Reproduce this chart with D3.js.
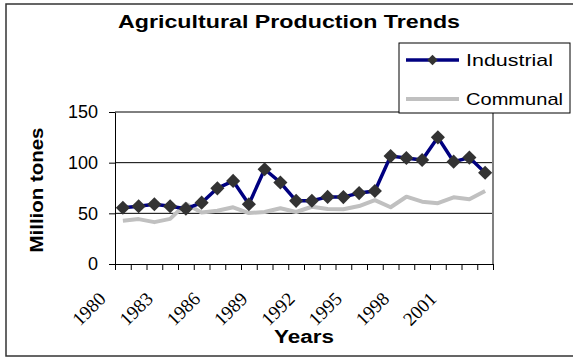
<!DOCTYPE html>
<html>
<head>
<meta charset="utf-8">
<script src="https://cdn.jsdelivr.net/npm/d3@7"></script>
<style>
  body { margin: 0; background: #fff; }
  svg { display: block; }
</style>
</head>
<body>
<div class="chart"></div>
<script>
// data
var years = d3.range(1980, 2004);
var industrial = [55.5, 57, 59, 57, 54.5, 60.5, 74.7, 82, 59, 93.5, 80.4, 62.3,
                  62.4, 66.2, 66, 70, 72, 106.5, 104.6, 102.6, 125, 101, 105, 90];
var communal = [42.7, 44.3, 41.3, 44.5, 59.5, 50.8, 52.5, 56, 50.3, 51.3, 55, 51.3,
                56.5, 54.3, 54, 57.2, 63, 56, 66.4, 61.5, 60, 65.8, 63.8, 72];
var yTicks = [0, 50, 100, 150];
var labelYears = [1980, 1983, 1986, 1989, 1992, 1995, 1998, 2001];

var svgWidth = 573, svgHeight = 358;
var plot = { left: 115, right: 493, top: 112, bottom: 264 };

var svg = d3.select(".chart").append("svg")
  .attr("width", svgWidth)
  .attr("height", svgHeight);

// outer chart border
svg.append("rect")
  .attr("x", 6).attr("y", 4)
  .attr("width", 590).attr("height", 352)
  .attr("fill", "none")
  .attr("stroke", "#333")
  .attr("stroke-width", 1.5);

// index scale: ticks on category boundaries, points in the middle
var xScale = d3.scaleLinear().domain([0, years.length]).range([plot.left, plot.right]);
var yScale = d3.scaleLinear().domain([0, 150]).range([plot.bottom, plot.top]);
var xPos = function(i) { return xScale(i + 0.5); };

// gridlines
svg.append("g").selectAll("line")
  .data(yTicks.slice(1))
  .enter().append("line")
  .attr("x1", plot.left).attr("x2", plot.right)
  .attr("y1", d => yScale(d)).attr("y2", d => yScale(d))
  .attr("stroke", "#000").attr("stroke-width", 1);

// plot area right border
svg.append("line")
  .attr("x1", plot.right).attr("x2", plot.right)
  .attr("y1", plot.top).attr("y2", plot.bottom)
  .attr("stroke", "#808080").attr("stroke-width", 2);

// x axis
var bottomAxis = d3.axisBottom(xScale)
  .tickValues(d3.range(0, years.length + 1))
  .tickSize(6)
  .tickSizeOuter(0)
  .tickFormat("");
svg.append("g")
  .attr("transform", `translate(0, ${plot.bottom})`)
  .call(bottomAxis)
  .call(g => g.selectAll("line,path").attr("stroke", "#000"));

// y axis
var leftAxis = d3.axisLeft(yScale)
  .tickValues(yTicks)
  .tickSize(6)
  .tickSizeOuter(0)
  .tickPadding(11);
svg.append("g")
  .attr("transform", `translate(${plot.left}, 0)`)
  .call(leftAxis)
  .call(g => g.selectAll("line,path").attr("stroke", "#000"))
  .call(g => g.selectAll("text")
    .attr("font-family", "Liberation Sans, Arial, sans-serif")
    .attr("font-size", 18)
    .attr("fill", "#000"));

// rotated year labels
svg.append("g").selectAll("text")
  .data(labelYears)
  .enter().append("text")
  .attr("transform", d => `translate(${xPos(years.indexOf(d)) - 16}, 300) rotate(-45)`)
  .attr("text-anchor", "end")
  .attr("font-family", "Liberation Serif, Times New Roman, serif")
  .attr("font-size", 19)
  .text(d => d);

// communal line
var line = function(values) {
  return d3.line()
    .x((d, i) => xPos(i))
    .y(d => yScale(d))(values);
};
svg.append("path")
  .attr("d", line(communal))
  .attr("fill", "none")
  .attr("stroke", "#c0c0c0")
  .attr("stroke-width", 4)
  .attr("stroke-linejoin", "round");

// industrial line + diamonds
svg.append("path")
  .attr("d", line(industrial))
  .attr("fill", "none")
  .attr("stroke", "#000080")
  .attr("stroke-width", 3.5);

var diamond = d3.symbol().type(d3.symbolSquare).size(100);
svg.append("g").selectAll("path")
  .data(industrial)
  .enter().append("path")
  .attr("d", diamond)
  .attr("transform", (d, i) => `translate(${xPos(i)}, ${yScale(d)}) rotate(45)`)
  .attr("fill", "#333");

// title
svg.append("text")
  .attr("x", 289).attr("y", 28)
  .attr("text-anchor", "middle")
  .attr("font-family", "Liberation Sans, Arial, sans-serif")
  .attr("font-weight", "bold")
  .attr("font-size", 18)
  .attr("textLength", 342)
  .attr("lengthAdjust", "spacingAndGlyphs")
  .text("Agricultural Production Trends");

// axis titles
svg.append("text")
  .attr("x", 304).attr("y", 343)
  .attr("text-anchor", "middle")
  .attr("font-family", "Liberation Sans, Arial, sans-serif")
  .attr("font-weight", "bold")
  .attr("font-size", 18)
  .attr("textLength", 60)
  .attr("lengthAdjust", "spacingAndGlyphs")
  .text("Years");

svg.append("text")
  .attr("transform", "translate(43, 190) rotate(-90)")
  .attr("text-anchor", "middle")
  .attr("font-family", "Liberation Sans, Arial, sans-serif")
  .attr("font-weight", "bold")
  .attr("font-size", 18)
  .attr("textLength", 125)
  .attr("lengthAdjust", "spacingAndGlyphs")
  .text("Million tones");

// legend
var legend = svg.append("g");
legend.append("rect")
  .attr("x", 399).attr("y", 43)
  .attr("width", 171).attr("height", 70)
  .attr("fill", "#fff")
  .attr("stroke", "#000");

var legendItems = [
  { name: "Industrial", color: "#000080", width: 3.5, y: 60, len: 87, marker: true },
  { name: "Communal", color: "#c0c0c0", width: 4, y: 99, len: 97, marker: false }
];
legendItems.forEach(function(item) {
  legend.append("line")
    .attr("x1", 406).attr("x2", 459)
    .attr("y1", item.y).attr("y2", item.y)
    .attr("stroke", item.color)
    .attr("stroke-width", item.width);
  if (item.marker) {
    legend.append("path")
      .attr("d", d3.symbol().type(d3.symbolSquare).size(55))
      .attr("transform", `translate(432.5, ${item.y}) rotate(45)`)
      .attr("fill", "#333");
  }
  legend.append("text")
    .attr("x", 466).attr("y", item.y + 6)
    .attr("font-family", "Liberation Sans, Arial, sans-serif")
    .attr("font-size", 17)
    .attr("textLength", item.len)
    .attr("lengthAdjust", "spacingAndGlyphs")
    .text(item.name);
});
</script>
</body>
</html>
